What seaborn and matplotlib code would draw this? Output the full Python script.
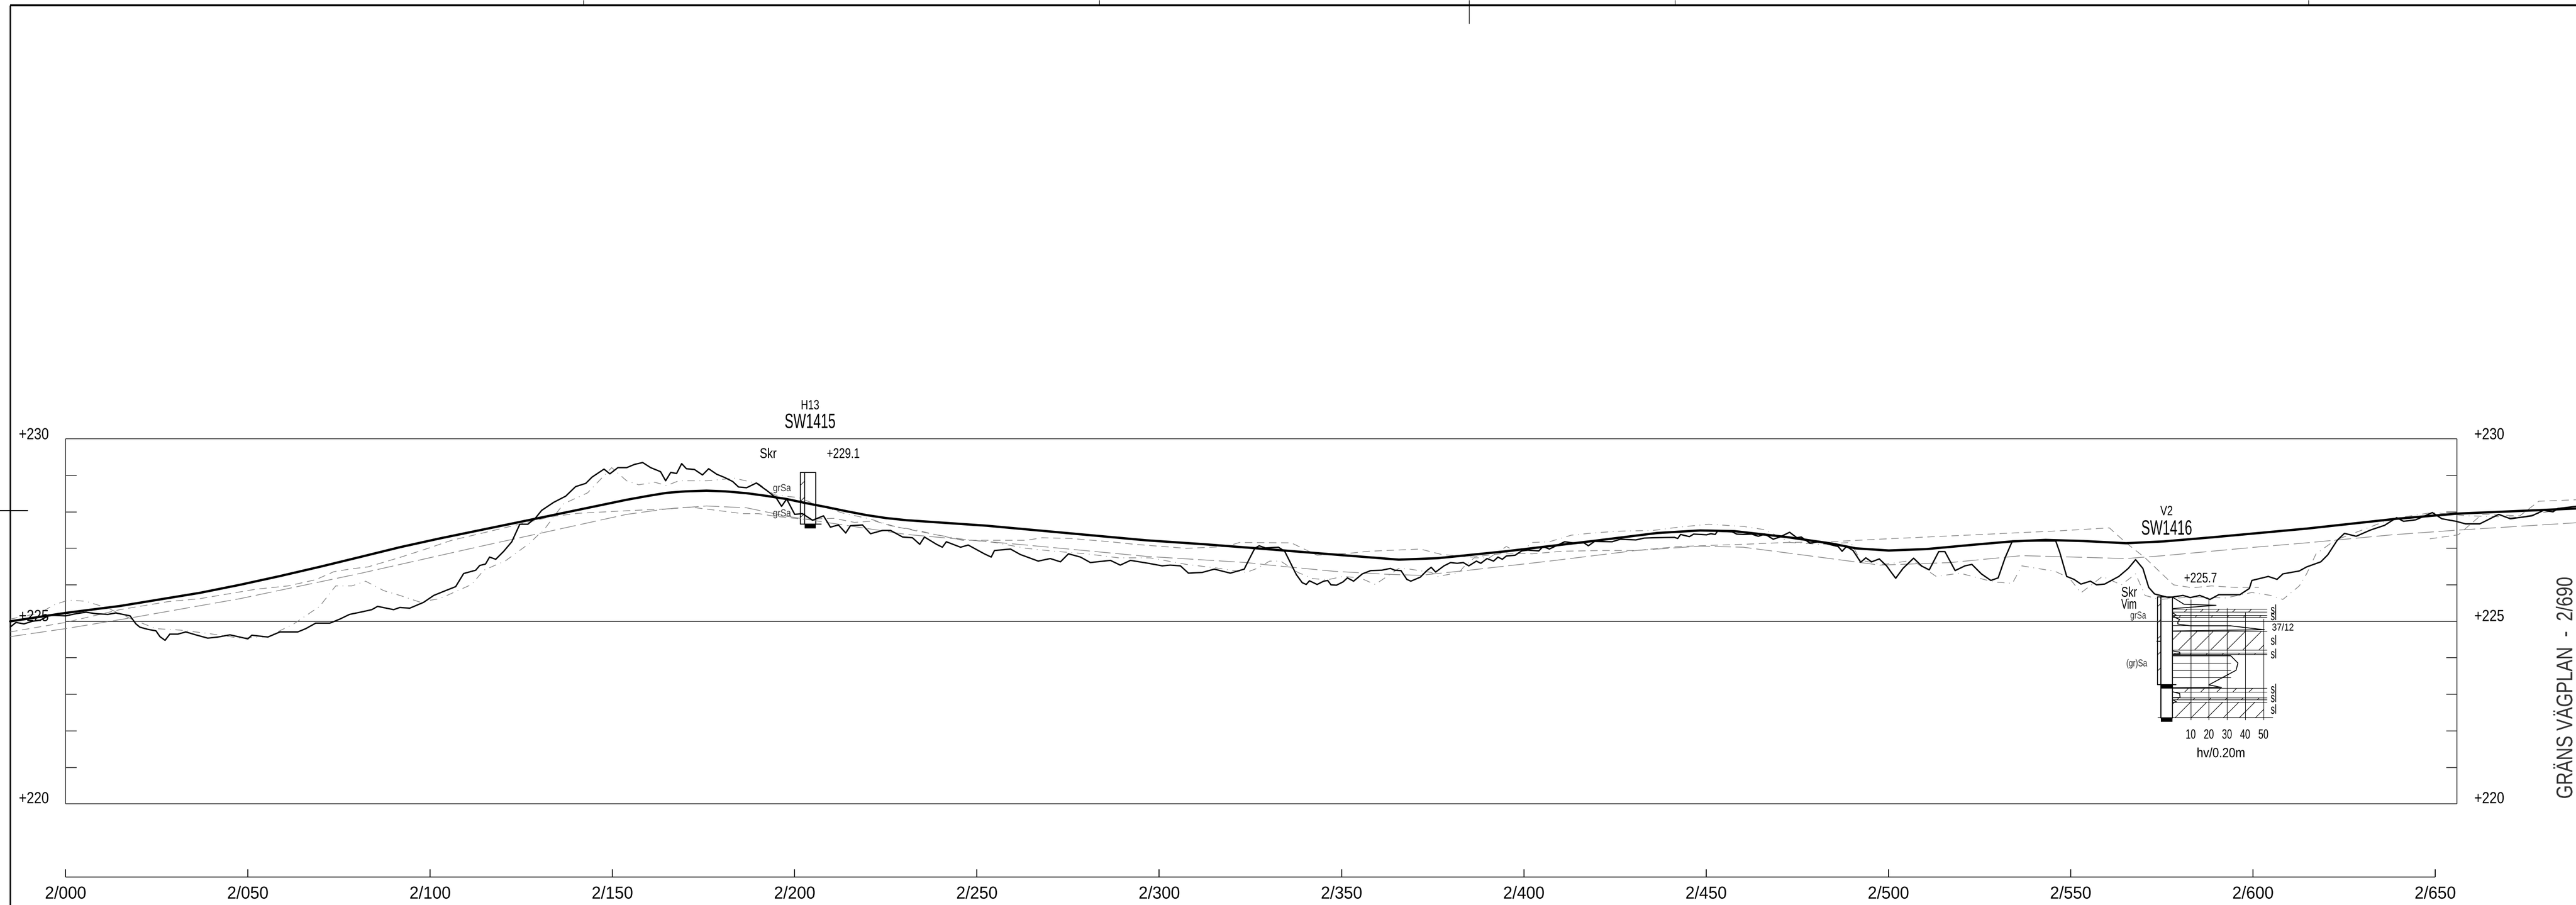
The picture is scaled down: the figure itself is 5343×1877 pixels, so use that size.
# plot.py
# Longitudinal road profile 2/000 - 2/690 with two boreholes

import matplotlib
matplotlib.use('Agg')
import matplotlib.pyplot as plt
import seaborn as sns
from matplotlib.patheffects import AbstractPathEffect
from matplotlib.transforms import Affine2D

# design line (road surface)
design_ch = [-15.2, 0, 14.9, 36.8, 47.8, 58.8, 70, 80.7, 91.7, 102.6, 127.9, 153.9, 160, 164.9, 170, 175.8, 181,
             186.8, 192, 197.8, 203, 208.7, 214, 219.7, 225, 230.7, 252.6, 274.5, 296.4, 312.6, 326.8, 348, 365.7,
             376.4, 395.2, 418.9, 436.6, 448.4, 457.8, 472, 484.5, 491, 500.1, 510.5, 523.5, 534, 543.1, 553.5,
             565.2, 575.6, 588.6, 614.7, 639.4, 656, 688.6]
design_z = [225.0, 225.23, 225.42, 225.78, 226.0, 226.24, 226.5, 226.76, 227.03, 227.27, 227.79, 228.33, 228.44,
            228.52, 228.56, 228.58, 228.56, 228.51, 228.44, 228.35, 228.24, 228.13, 228.02, 227.91, 227.83,
            227.77, 227.62, 227.42, 227.22, 227.11, 227.0, 226.83, 226.69, 226.73, 226.92, 227.2, 227.42,
            227.49, 227.47, 227.31, 227.13, 227.0, 226.94, 226.98, 227.1, 227.19, 227.23, 227.2, 227.14, 227.19,
            227.3, 227.54, 227.81, 227.95, 228.09]

# measured ground line
ground_ch = [-15.2, -13.6, -11.4, -9.2, -7.0, -4.3, 0, 2.9, 5.6, 8.3, 11.6, 13.8, 17.7, 19.3, 20.4, 22.6, 24.8,
             25.9, 27.3, 28.6, 30.8, 33, 35.7, 39, 41.8, 45.1, 47.8, 50, 51.1, 55.5, 58.8, 63.7, 65.9, 68.6,
             72.5, 75.2, 77.9, 81.3, 84, 85.6, 90, 91.7, 94.4, 98.2, 101, 103.7, 107, 109.2, 112.5, 113.6,
             115.2, 116.3, 118, 120.2, 122.4, 124.6, 126.8, 128.9, 130.6, 133.9, 137.2, 139.9, 142.7, 144.4,
             147.7, 149.3, 151.5, 153.9, 156.1, 158.3, 160.5, 163.2, 164.6, 166, 167.6, 169, 170.3, 172.5,
             174.7, 176.4, 178.6, 180.8, 183, 184.6, 186.8, 189.5, 192.8, 195, 196.4, 197.8, 200, 202.1,
             204.9, 207.9, 209.8, 212, 214, 215.3, 218.6, 220.8, 224.1, 226.3, 229.6, 232.3, 234.3, 235.6,
             238.9, 240.5, 241.6, 245.5, 247.6, 252, 253.9, 254.8, 259.2, 261.9, 266.8, 270.1, 272.9, 275.1,
             278.4, 281.1, 286.6, 289.3, 292.1, 297, 300.8, 303, 305.8, 308, 311.8, 315.1, 319.5, 323.3,
             324.4, 326.2, 327.4, 329.1, 332.7, 334.4, 336.2, 337.6, 339.2, 340.3, 341.2, 343.3, 345.1,
             346.2, 347.1, 348.6, 350.4, 351.6, 353.3, 355.7, 358, 361, 363.4, 364.6, 366.3, 367.9, 369,
             371.6, 373.4, 374.6, 375.8, 378.1, 379.9, 381.7, 383.4, 384.9, 387, 388.2, 389.9, 391.7, 392.9,
             394.1, 395.2, 397.6, 399.4, 401.1, 404.1, 405.3, 407, 411.2, 414.1, 416.5, 417.7, 419.4, 424.2,
             426.5, 430.7, 433, 435.4, 441.3, 442.2, 443, 445.4, 446.6, 450.1, 451.3, 452.5, 453.1, 457.2,
             458.4, 460.2, 462.5, 464.3, 466.1, 468.4, 470.2, 472.9, 474.9, 476.1, 478.5, 480.8, 486.2,
             487.3, 488.5, 490.3, 492.4, 493.8, 495.4, 497.5, 499.5, 500.8, 502, 504, 506.9, 509.2, 511.2,
             513.8, 515.5, 518.3, 521, 522.9, 525.5, 528.1, 530.1, 532, 534, 545.9, 547, 548.9, 550.9, 552.8,
             555.4, 557.1, 559.3, 563.2, 565.8, 567.8, 569.8, 571.4, 573, 576.9, 580.8, 582.8, 585.4, 588.2,
             590.6, 596.4, 599, 599.7, 604.2, 606.6, 608.2, 612.7, 614.7, 618.6, 620.5, 623.1, 625.1, 628.3,
             632.2, 636.1, 639.4, 641.3, 644.6, 647.2, 649.2, 651.8, 655.7, 658.3, 662.2, 667.4, 670.6,
             676.5, 679.7, 682.3, 683.6, 688.6]
ground_z = [224.84, 224.97, 224.93, 225.0, 225.03, 225.17, 225.15, 225.21, 225.25, 225.21, 225.19, 225.23, 225.15,
            224.93, 224.84, 224.78, 224.74, 224.58, 224.48, 224.65, 224.65, 224.71, 224.63, 224.54, 224.57,
            224.63, 224.57, 224.52, 224.62, 224.57, 224.71, 224.71, 224.8, 224.95, 224.95, 225.06, 225.19,
            225.26, 225.32, 225.41, 225.32, 225.38, 225.36, 225.52, 225.71, 225.82, 225.95, 226.31, 226.4,
            226.53, 226.57, 226.76, 226.7, 226.92, 227.18, 227.66, 227.66, 227.83, 228.04, 228.26, 228.43,
            228.69, 228.78, 228.95, 229.17, 229.04, 229.21, 229.21, 229.3, 229.35, 229.21, 229.1, 228.85,
            229.08, 229.05, 229.32, 229.18, 229.16, 229.01, 229.18, 229.03, 228.94, 228.83, 228.68, 228.66,
            228.79, 228.55, 228.37, 228.15, 228.35, 227.93, 227.95, 227.77, 227.89, 227.58, 227.64, 227.42,
            227.62, 227.64, 227.4, 227.49, 227.49, 227.31, 227.29, 227.11, 227.31, 227.11, 227.03, 227.18,
            227.03, 227.09, 226.85, 226.76, 226.94, 226.98, 226.83, 226.65, 226.72, 226.63, 226.85, 226.76,
            226.61, 226.67, 226.54, 226.67, 226.59, 226.52, 226.54, 226.52, 226.32, 226.34, 226.43, 226.32,
            226.43, 226.65, 227.0, 227.07, 227.01, 227.03, 226.92, 226.56, 226.28, 226.06, 226.01, 226.11,
            226.01, 226.1, 226.12, 226.0, 225.99, 226.08, 226.19, 226.1, 226.3, 226.39, 226.4, 226.45, 226.4,
            226.39, 226.15, 226.1, 226.21, 226.39, 226.48, 226.35, 226.52, 226.61, 226.59, 226.61, 226.52,
            226.65, 226.59, 226.72, 226.65, 226.76, 226.7, 226.79, 226.81, 226.93, 226.95, 226.93, 227.05,
            226.98, 227.18, 227.14, 227.15, 227.07, 227.19, 227.18, 227.25, 227.23, 227.28, 227.29, 227.3,
            227.27, 227.38, 227.32, 227.39, 227.37, 227.4, 227.38, 227.47, 227.45, 227.39, 227.38, 227.39,
            227.33, 227.39, 227.25, 227.31, 227.44, 227.29, 227.31, 227.14, 227.18, 227.05, 226.92, 227.05,
            226.94, 226.62, 226.74, 226.63, 226.71, 226.52, 226.34, 226.18, 226.45, 226.73, 226.51, 226.41,
            226.91, 226.91, 226.39, 226.52, 226.56, 226.3, 226.12, 226.19, 226.74, 227.2, 227.2, 226.89,
            226.23, 226.15, 226.02, 226.1, 226.0, 226.02, 226.23, 226.45, 226.69, 226.45, 225.93, 225.75,
            225.65, 225.71, 225.65, 225.71, 225.6, 225.73, 225.73, 225.9, 226.12, 226.23, 226.15, 226.3,
            226.38, 226.49, 226.63, 226.82, 227.22, 227.41, 227.33, 227.5, 227.63, 227.84, 227.74, 227.78,
            227.89, 227.98, 227.81, 227.74, 227.67, 227.67, 227.93, 227.81, 227.89, 228.04, 228.0, 228.09,
            228.15]

# grey dash-dot line near the ground
old_ground_ch = [-15.2, -7, -3.2, 0.7, 5.6, 11.6, 18.2, 24.8, 31.4, 39, 47.8, 55.5, 62.6, 69.7, 74.1, 78.5, 82.3,
                 87.3, 91.7, 97.1, 102.6, 111.4, 114.7, 120.7, 127.3, 131.7, 136.6, 143.2, 149.8, 153.9, 157.2,
                 161.6, 164.9, 168.2, 175.8, 183.5, 190.1, 194.5, 201.1, 205.4, 213.1, 220.8, 227.4, 233.9,
                 238.3, 246, 254.8, 263.5, 271.2, 280, 288.8, 297.5, 307.4, 315.1, 323.9, 326.8, 330.3, 333.3,
                 338, 342.1, 346.2, 350.4, 355.1, 359.2, 361.6, 365.7, 368.7, 374.6, 376.4, 382.3, 383.4, 386.4,
                 390.5, 395.2, 398.8, 402.3, 407, 413, 418.9, 425.9, 435.4, 442.5, 450.7, 460.2, 466.1, 473.2,
                 481.4, 489.7, 492.3, 498.8, 506.6, 513.1, 519.6, 528.8, 534, 536.6, 545.7, 549.6, 552.8, 558.7,
                 563.9, 567.8, 570.4, 574.3, 583.4, 592.5, 599.7, 604.9, 608.2, 612.7, 614.7, 617.3, 622.5,
                 638.1, 649.2, 658.9, 673.2, 687.5]
old_ground_z = [225.06, 225.23, 225.45, 225.58, 225.55, 225.36, 225.06, 224.8, 224.76, 224.67, 224.54, 224.58, 224.93,
                225.41, 225.97, 225.97, 226.1, 225.84, 225.71, 225.53, 225.62, 226.01, 226.4, 226.66, 227.14,
                227.57, 228.22, 228.52, 229.21, 228.85, 228.74, 228.81, 228.72, 228.85, 228.85, 228.92, 228.77,
                228.46, 228.39, 228.22, 227.97, 227.8, 227.6, 227.49, 227.38, 227.25, 227.16, 227.0, 226.92,
                226.85, 226.74, 226.74, 226.56, 226.47, 226.34, 226.45, 226.65, 226.65, 226.34, 226.17, 226.14,
                226.23, 226.19, 226.01, 226.17, 226.45, 226.43, 226.34, 226.23, 226.34, 226.48, 226.74, 226.74,
                227.05, 226.87, 227.16, 227.18, 227.36, 227.42, 227.47, 227.49, 227.58, 227.66, 227.6, 227.51,
                227.16, 227.11, 227.16, 226.67, 226.56, 226.67, 226.23, 226.32, 226.08, 226.04, 226.52, 226.37,
                226.19, 225.78, 226.23, 226.0, 226.3, 225.71, 225.6, 225.67, 225.64, 225.79, 225.71, 225.6,
                225.97, 226.3, 226.85, 227.22, 227.81, 227.98, 227.89, 227.85, 228.13]

# upper grey dashed line, broken in two parts
upper_ch = [-15.2, 0, 14.9, 28.1, 36.8, 52.2, 61, 68.6, 73.6, 78.5, 82.9, 91.7, 98.2, 105.9, 113.6, 133.3, 140.7,
            154, 164.9, 171.4, 180.2, 185.7, 190.1, 194.5, 202.1, 210.9, 216.4, 221.9, 226.3, 232.8, 239.4, 246,
            254.8, 263.5, 267.9, 275.6, 286.6, 293.2, 307.4, 318.4, 322, 336.2, 343.3, 352.7, 357.5, 371.6, 377.5,
            385.8, 395.2, 402.3, 410.6, 421.2, 430.7, 442.5, 460.2, 472, 483.8, 497.5, 523.5, 547, 560.6, 565.2,
            570.4, 574.3, 578.2, 583.4, 588.6, 595.1, 601.6]
upper_z = [224.71, 224.97, 225.32, 225.54, 225.62, 225.88, 225.97, 226.14, 226.36, 226.44, 226.49, 226.75, 226.96,
           227.22, 227.4, 227.87, 227.96, 228.03, 228.08, 228.13, 228.02, 227.95, 227.95, 227.88, 227.8, 227.82,
           227.71, 227.75, 227.62, 227.49, 227.36, 227.22, 227.22, 227.22, 227.29, 227.27, 227.18, 227.11, 227.0,
           227.05, 227.16, 227.15, 226.81, 226.87, 226.92, 226.98, 226.83, 226.76, 226.87, 226.85, 226.92, 226.94,
           226.94, 227.05, 227.11, 227.16, 227.18, 227.25, 227.37, 227.48, 227.56, 227.15, 226.74, 226.37, 226.0,
           225.92, 225.97, 225.93, 225.93]
upper_end_ch = [648.5, 656.3, 662.8, 673.2, 678.4, 688.6]
upper_end_z = [227.26, 227.37, 227.93, 227.89, 228.29, 228.33]

# lower grey dashed line
lower_ch = [-15.2, 0, 18.2, 47.8, 80.7, 113.6, 153.9, 164.9, 175.8, 186.8, 197.8, 208.7, 230.7, 263.5, 296.4, 323.9,
            330.3, 348, 362.2, 371.6, 385.8, 407, 430.7, 448.4, 460.2, 477.9, 497.7, 517, 536.6, 565.2, 575.6,
            601.6, 614.7, 638.1, 656.3, 688.6]
lower_z = [224.58, 224.8, 225.1, 225.62, 226.31, 227.05, 227.93, 228.08, 228.16, 228.11, 227.88, 227.71, 227.38,
           227.09, 226.78, 226.61, 226.54, 226.37, 226.29, 226.26, 226.41, 226.65, 226.94, 227.06, 227.03, 226.8,
           226.54, 226.61, 226.8, 226.72, 226.8, 227.04, 227.15, 227.37, 227.5, 227.7]

# sounding curve of V2, penetration resistance against level
sound_hv = [0, 6.4, 24, 0.2, 0, 2, 0.5, 4, 3, 3, 10, 32, 50.5, 0]
sound_z = [225.665, 225.467, 225.439, 225.349, 225.241, 225.17, 225.123, 225.052, 224.981, 224.925, 224.877,
           224.877, 224.769, 224.736]
sound2_hv = [0, 4, 4.2, 0]
sound2_z = [224.189, 224.156, 224.108, 224.094]
sound3_hv = [0, 32, 36, 35, 20, 27, 0]
sound3_z = [224.061, 224.061, 223.858, 223.66, 223.259, 223.189, 223.179]
sound4_hv = [0, 4, 4.2, 0, 0, 2.4, 0]
sound4_z = [223.071, 223.024, 222.915, 222.906, 222.859, 222.788, 222.778]

sl_bands = [(225.335, 225.255), (225.17, 225.113), (224.736, 224.212), (224.142, 224.094),
            (223.179, 223.071), (222.906, 222.859), (222.788, 222.363)]
long_levels = [225.335, 225.255, 225.17, 225.113, 224.736, 224.212, 224.142, 224.094, 223.179, 223.071,
               222.906, 222.859, 222.788]
short_levels = [224.887, 224.061, 223.858, 223.66, 223.458]
hv_grid = [10, 20, 30, 40, 50]
hv_labels = ['10', '20', '30', '40', '50']
sl_label_z = [225.29, 225.125, 224.45, 224.08, 223.12, 222.88, 222.56]

chainage_ticks = list(range(0, 651, 50))
chainage_labels = [f'2/{c:03d}' for c in chainage_ticks]
level_ticks = [221, 222, 223, 224, 226, 227, 228, 229]
sheet_ticks = [142, 283.6, 441.4, 615.2]

# map chainage/level to the sheet: 7.562 px per metre, 75.7 px per metre of height
XMIN, XMAX = -17.98, 688.6
YMIN, YMAX = 217.23, 242.02
BOX_L, BOX_R = 0, 656
INK = '#000000'
BOX = '#3a3a3a'
GREY = '#808080'
LABEL_GREY = '#333333'


class Squeeze(AbstractPathEffect):
    """Narrow a text about its centre, the drawing font is a narrow one"""

    def __init__(self, sx=1.0, sy=1.0):
        super().__init__()
        self.sx = sx
        self.sy = sy

    def draw_path(self, renderer, gc, tpath, affine, rgbFace=None):
        box = tpath.get_extents(affine)
        cx, cy = box.x0 + box.width / 2, box.y0 + box.height / 2
        shrink = Affine2D().translate(-cx, -cy).scale(self.sx, self.sy).translate(cx, cy)
        renderer.draw_path(gc, tpath, affine + shrink, rgbFace)


sns.set_theme(style='white')
plt.rcParams['font.family'] = ['Liberation Sans', 'DejaVu Sans']
plt.rcParams['hatch.linewidth'] = 0.8

fig = plt.figure(figsize=(53.43, 18.77), dpi=100, facecolor='white')
ax = fig.add_axes([0, 0, 1, 1])


def line(x, y, color=INK, lw=1.0, **kws):
    sns.lineplot(x=x, y=y, color=color, linewidth=lw, estimator=None, sort=False,
                 errorbar=None, legend=False, ax=ax, **kws)


# profile box and scales
ax.hlines([220, 225, 230], BOX_L, BOX_R, color=BOX, lw=1.3)
ax.vlines([BOX_L, BOX_R], 220, 230, color=BOX, lw=1.3)
ax.hlines(level_ticks, BOX_L, BOX_L + 3, color=BOX, lw=1.3)
ax.hlines(level_ticks, BOX_R - 3, BOX_R, color=BOX, lw=1.3)
ax.hlines(218.0, 0, 650, color=INK, lw=1.3)
ax.vlines(chainage_ticks, 218.0, 218.21, color=INK, lw=1.3)

# sheet frame
ax.vlines(-15.2, YMIN, 241.88, color=INK, lw=2.2)
ax.hlines(241.88, -15.2, XMAX, color=INK, lw=3.0)
ax.vlines(sheet_ticks, 241.88, YMAX, color=INK, lw=0.9)
ax.vlines(385, 241.37, YMAX, color=INK, lw=0.9)
ax.hlines(228.04, XMIN, -10.3, color=INK, lw=1.6)

# profile lines
dash = dict(dashes=False, dash_capstyle='butt')
line(lower_ch, lower_z, GREY, 1.0, linestyle=(0, (24, 7)), **dash)
line(upper_ch, upper_z, GREY, 1.0, linestyle=(0, (11, 7)), **dash)
line(upper_end_ch, upper_end_z, GREY, 1.0, linestyle=(0, (11, 7)), **dash)
line(old_ground_ch, old_ground_z, GREY, 1.0, linestyle=(0, (11, 7, 1, 7)), **dash)
line(ground_ch, ground_z, INK, 2.0)
line(design_ch, design_z, INK, 3.4)

# borehole H13 / SW1415
ax.fill_betweenx([227.66, 229.08], 201.5, 202.8, facecolor='white', edgecolor=INK, lw=1.4, hatch='/')
ax.fill_betweenx([227.66, 229.08], 202.8, 205.8, facecolor='none', edgecolor=INK, lw=1.4)
ax.fill_betweenx([227.55, 227.67], 202.8, 205.8, color=INK, lw=0)
ax.hlines(227.67, 201.5, 207.3, color=INK, lw=1.4)

# borehole V2 / SW1416
ax.fill_betweenx([223.26, 225.67], 573.8, 574.8, facecolor='white', edgecolor=INK, lw=1.4, hatch='/')
ax.fill_betweenx([222.36, 225.67], 574.8, 577.9, facecolor='white', edgecolor=INK, lw=1.5)
ax.fill_betweenx([223.16, 223.26], 574.8, 577.9, color=INK, lw=0)
ax.fill_betweenx([222.25, 222.36], 574.8, 577.9, color=INK, lw=0)
ax.hlines(223.26, 573.8, 579, color=INK, lw=1.4)
ax.hlines(222.363, 573.8, 605.4, color=INK, lw=1.0)
ax.hlines(224.45, 573.5, 574.9, color=INK, lw=1.6)

# sounding, hv 10 per 4.99 m on the chainage scale
HV0, HV_M = 577.9, 0.499
for top, bottom in sl_bands:
    ax.fill_betweenx([bottom, top], HV0, HV0 + 50 * HV_M, facecolor='none', edgecolor=INK, lw=0, hatch='/')
ax.hlines(long_levels, HV0, HV0 + 52 * HV_M, color=INK, lw=0.8)
ax.hlines(short_levels, HV0, HV0 + 32 * HV_M, color=INK, lw=0.8)
ax.vlines([HV0 + h * HV_M for h in hv_grid[:2]], 222.3, 225.6, color=INK, lw=0.8)
ax.vlines(HV0 + hv_grid[2] * HV_M, 222.3, 225.36, color=INK, lw=0.8)
ax.vlines(HV0 + hv_grid[3] * HV_M, 222.3, 225.25, color=INK, lw=0.8)
ax.vlines(HV0 + hv_grid[4] * HV_M, 222.3, 225.07, color=INK, lw=0.8)
for hv, z in [(sound_hv, sound_z), (sound2_hv, sound2_z), (sound3_hv, sound3_z), (sound4_hv, sound4_z)]:
    line([HV0 + h * HV_M for h in hv], z, INK, 1.3)


# texts
def label(x, y, s, size=20, color=INK, sx=1.0):
    ax.text(x, y, s, fontsize=size, color=color, ha='center', va='center', path_effects=[Squeeze(sx)])


for tick, name in zip(chainage_ticks, chainage_labels):
    label(tick, 217.53, name, 26, sx=0.95)
for lev, name in [(230.1, '+230'), (225.12, '+225'), (220.13, '+220')]:
    label(-8.7, lev, name, 24, sx=0.83)
    label(664.8, lev, name, 24, sx=0.83)

label(204.2, 230.44, 'SW1415', 31, sx=0.64)
label(204.2, 230.9, 'H13', 20, sx=0.75)
label(192.7, 229.58, 'Skr', 21, sx=0.8)
label(213.3, 229.58, '+229.1', 21, sx=0.76)
label(196.5, 228.64, 'grSa', 15, LABEL_GREY, sx=0.85)
label(196.5, 227.95, 'grSa', 15, LABEL_GREY, sx=0.85)

label(576.3, 227.52, 'SW1416', 31, sx=0.64)
label(576.3, 228.0, 'V2', 20, sx=0.76)
label(585.6, 226.17, '+225.7', 21, sx=0.76)
label(566, 225.78, 'Skr', 21, sx=0.75)
label(566, 225.45, 'Vim', 21, sx=0.64)
label(568.5, 225.15, 'grSa', 15, LABEL_GREY, sx=0.75)
label(568.1, 223.84, '(gr)Sa', 15, LABEL_GREY, sx=0.75)
label(608.2, 224.82, '37/12', 15, sx=0.87)
for z in sl_label_z:
    label(605.7, z, 'sl', 20, sx=0.62)
for h, name in zip(hv_grid, hv_labels):
    label(HV0 + h * HV_M, 221.88, name, 20, sx=0.68)
label(591.2, 221.37, 'hv/0.20m', 20, sx=0.88)

ax.text(686.0, 223.18, 'GRÄNS VÄGPLAN  -  2/690', fontsize=34, rotation=90, ha='center', va='center',
        color=LABEL_GREY, path_effects=[Squeeze(1.0, 0.78)])

ax.set_xlim(XMIN, XMAX)
ax.set_ylim(YMIN, YMAX)
ax.axis('off')

plt.savefig('out.png', dpi=100, facecolor='white')
